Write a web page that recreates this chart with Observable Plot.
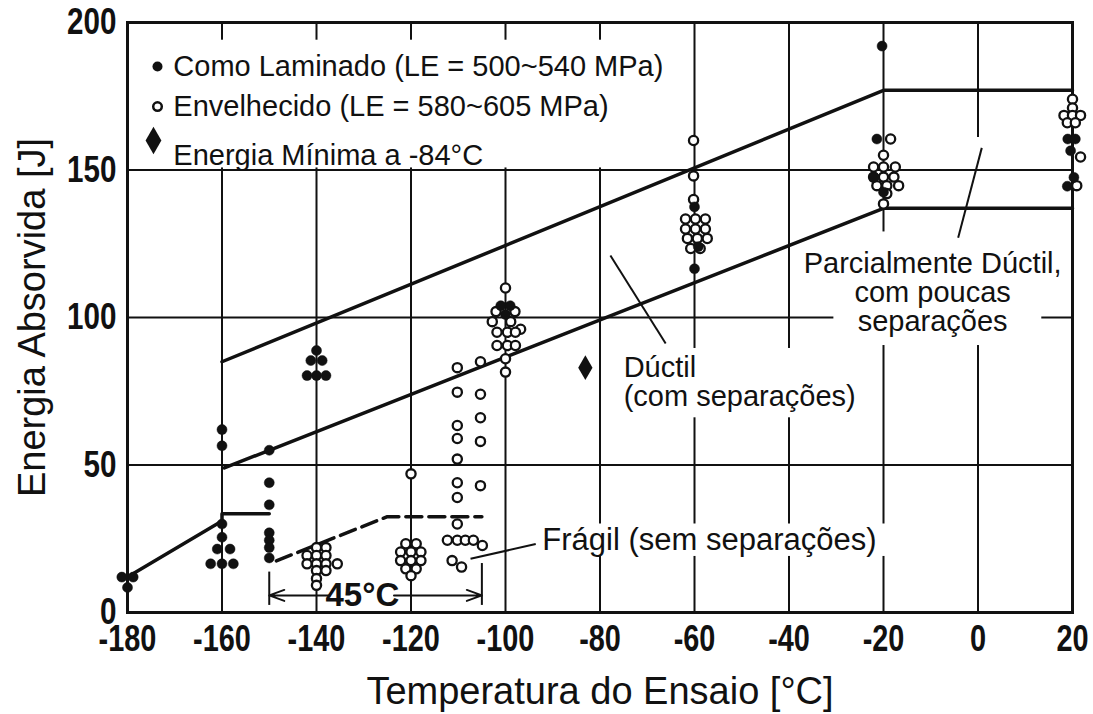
<!DOCTYPE html>
<html>
<head>
<meta charset="utf-8">
<script src="https://cdn.jsdelivr.net/npm/d3@7"></script>
<script src="https://cdn.jsdelivr.net/npm/@observablehq/plot@0.6"></script>
<style>
  html, body { margin: 0; padding: 0; background: #fff; }
  #chart svg { display: block; }
</style>
</head>
<body>
<div id="chart"></div>
<script>
// ---- data ----
const xTicks = [-180, -160, -140, -120, -100, -80, -60, -40, -20, 0, 20];
const yTicks = [0, 50, 100, 150, 200];

const xLabel = "Temperatura do Ensaio [°C]";
const yLabel = "Energia Absorvida [J]";

const legendLabels = [
  "Como Laminado (LE = 500~540 MPa)",
  "Envelhecido (LE = 580~605 MPa)",
  "Energia Mínima a -84°C"
];

// As rolled (filled dots)
const lamX = [-181.2, -178.8, -180,
  -160, -160, -160, -160, -161, -158.3, -162.4, -160, -157.6,
  -150, -150, -150, -150, -150, -150, -150,
  -140, -141.2, -138.8, -142, -140, -138,
  -101, -99, -100,
  -60, -60, -59.2,
  -20.3, -21.4, -22, -20,
  19, 20.6, 19.6, 20.3, 18.9];
const lamY = [12, 12, 8.5,
  62, 56.5, 30, 25.5, 21.5, 21.5, 16.5, 16.5, 16.5,
  55, 44, 36.5, 27, 24.5, 22, 18.5,
  88.8, 85.4, 85.4, 80.3, 80.3, 80.3,
  104, 104, 101,
  116.5, 137.5, 124,
  192, 160.5, 147.5, 142.5,
  160.5, 160.5, 156.5, 147.5, 144.5];

// Aged (open dots)
const envX = [
  -140, -138, -142, -140, -138, -142, -140, -138, -135.6, -140, -138, -140, -140,
  -120, -121.1, -118.9, -122.2, -120, -117.9, -122.2, -120, -117.9, -121.1, -118.9, -120,
  -110.2, -110.2, -110.2, -110.2, -110.2, -110.2, -110.2, -110.2, -112.3, -110.2, -108.5, -106.8, -104.9, -111.3, -109.3,
  -105.3, -105.3, -105.3, -105.3, -105.3,
  -100, -102, -98, -102.8, -98.9, -96.8, -101.8, -99.6, -97.9, -101.8, -99.6, -97.9, -100, -100,
  -60.2, -60.2, -60.2, -61.9, -59.8, -57.7, -61.9, -59.8, -57.7, -61.5, -59.4, -57.3, -60.8, -58.8,
  -18.5, -20, -22.1, -20, -17.5, -22.1, -20, -17.8, -21.4, -19.3, -16.8, -19.3, -20,
  20, 20, 18.2, 20, 21.7, 18.9, 20.6, 21.7, 20.9];
const envY = [
  22, 22, 19.3, 19.3, 19.3, 16.5, 16.5, 16.5, 16.5, 14.2, 14.2, 11.5, 9.2,
  47, 23.3, 23.3, 20.5, 20.5, 20.5, 17.6, 17.6, 17.6, 14.8, 14.8, 12.5,
  83, 74.7, 63.4, 59, 52, 44, 39, 30, 24.5, 24.5, 24.5, 24.5, 22.7, 17.6, 15.4,
  85, 74, 66, 58, 43,
  110, 102, 102, 98.6, 98.6, 96, 95, 95, 95, 90.5, 90.5, 90.5, 86, 81.5,
  160, 148, 140, 133.4, 133.4, 133.4, 130, 130, 130, 126.8, 126.8, 126.8, 123.4, 123.4,
  160.5, 155, 151, 151, 151, 147.6, 147.6, 147.6, 144.7, 144.7, 144.7, 142, 138.5,
  174, 171, 168.5, 168.5, 168.5, 166, 166, 154.4, 144.7];

// Minimum energy at -84 °C
const minX = [-83.1];
const minY = [83];

// Transition band lines
const upperX = [-160, -20, 20];
const upperY = [85, 177, 177];
const middleX = [-159.5, -20, 20];
const middleY = [49, 137, 137];
const lowerX = [-180, -160, -160, -150];
const lowerY = [12, 31, 33.5, 33.5];
const lowerAgedX = [-148.5, -125, -105];
const lowerAgedY = [17.5, 32.5, 32.5];

// ---- build ----
const lam = lamX.map((x, i) => ({x, y: lamY[i]}));
const env = envX.map((x, i) => ({x, y: envY[i]}));
const mins = minX.map((x, i) => ({x, y: minY[i]}));
const toPts = (xs, ys) => xs.map((x, i) => ({x, y: ys[i]}));

const sans = "'Liberation Sans', Arial, Helvetica, sans-serif";

// annotation layout (data units)
const whiteBoxes = [
  {x1: -180, x2: -62, y1: 150.7, y2: 194},
  {x1: -30.5, x2: 13.5, y1: 90.5, y2: 129},
  {x1: -77, x2: -22.5, y1: 66, y2: 89.5},
  {x1: -92.5, x2: -17, y1: 19, y2: 30}
];
const leaders = [
  {x1: 0.8, y1: 157.5, x2: -4.2, y2: 127},
  {x1: -77.8, y1: 121, x2: -66.1, y2: 91.2},
  {x1: -107.4, y1: 18.2, x2: -93.6, y2: 23.2}
];

const chart = Plot.plot({
  width: 1093,
  height: 714,
  marginLeft: 127,
  marginRight: 21,
  marginTop: 22,
  marginBottom: 102,
  x: {domain: [-180, 20], ticks: xTicks},
  y: {domain: [0, 200], ticks: yTicks},
  style: {fontFamily: sans, background: "#fff", overflow: "visible", color: "#111"},
  marks: [
    // grid
    Plot.ruleX(xTicks.filter(d => d > -180 && d < 20 && d !== 0), {stroke: "#111", strokeWidth: 2}),
    Plot.ruleX([[0, 91.5], [161, 200]], {x: () => 0, y1: d => d[0], y2: d => d[1], stroke: "#111", strokeWidth: 2}),
    Plot.ruleY(yTicks.filter(d => d > 0 && d < 200), {stroke: "#111", strokeWidth: 2}),
    // white label backgrounds
    Plot.rect(whiteBoxes, {x1: "x1", x2: "x2", y1: "y1", y2: "y2", fill: "#fff"}),
    Plot.frame({stroke: "#111", strokeWidth: 3}),
    // axes
    Plot.axisX({ticks: xTicks, tickSize: 0, tickPadding: 12, fontSize: 37, fontWeight: "bold",
      tickFormat: d => String(d), label: null}),
    Plot.axisY({ticks: yTicks, tickSize: 0, tickPadding: 11, fontSize: 37, fontWeight: "bold",
      tickFormat: d => String(d), label: null}),
    // band lines
    Plot.line(toPts(upperX, upperY), {x: "x", y: "y", stroke: "#111", strokeWidth: 3.5}),
    Plot.line(toPts(middleX, middleY), {x: "x", y: "y", stroke: "#111", strokeWidth: 3.5}),
    Plot.line(toPts(lowerX, lowerY), {x: "x", y: "y", stroke: "#111", strokeWidth: 3.5}),
    Plot.line(toPts(lowerAgedX, lowerAgedY), {x: "x", y: "y", stroke: "#111", strokeWidth: 3.5, strokeDasharray: "16,7"}),
    // leaders
    Plot.link(leaders, {x1: "x1", y1: "y1", x2: "x2", y2: "y2", stroke: "#111", strokeWidth: 2}),
    // 45 °C dimension
    Plot.ruleX([[-150, 2.4, 13.7], [-105, 2.4, 16.6]], {x: d => d[0], y1: d => d[1], y2: d => d[2], stroke: "#111", strokeWidth: 2}),
    Plot.arrow([[-137.2, -150], [-123.6, -105]], {x1: d => d[0], x2: d => d[1], y1: () => 5.8, y2: () => 5.8,
      stroke: "#111", strokeWidth: 2, headLength: 12, headAngle: 40}),
    Plot.text(["45°C"], {x: () => -130.3, y: () => 5.8, fontWeight: "bold", fontSize: 33, fill: "#111",
      ariaLabel: "dimension label"}),
    // data points
    Plot.dot(env, {x: "x", y: "y", r: 4.6, fill: "#fff", stroke: "#111", strokeWidth: 2.3}),
    Plot.dot(lam, {x: "x", y: "y", r: 5, fill: "#111", stroke: "#111", strokeWidth: 0.5}),
    Plot.dot(mins, {x: "x", y: "y", symbol: "diamond", r: 7.5, fill: "#111"}),
    // legend
    Plot.dot([[-173.65, 185.1]], {x: d => d[0], y: d => d[1], r: 5, fill: "#111"}),
    Plot.dot([[-173.65, 171.5]], {x: d => d[0], y: d => d[1], r: 4.3, fill: "#fff", stroke: "#111", strokeWidth: 2.5}),
    Plot.dot([[-174.5, 160]], {x: d => d[0], y: d => d[1], symbol: "diamond", r: 8.3, fill: "#111"}),
    Plot.text(legendLabels, {x: () => -170.3, y: (d, i) => [185.1, 171.5, 155][i], textAnchor: "start",
      fontSize: 29, fill: "#111"}),
    // region labels
    Plot.text(["Parcialmente Dúctil,\ncom poucas\nseparações"], {x: () => -9.6, y: () => 108.5, textAnchor: "middle",
      fontSize: 29, lineHeight: 1.0, fill: "#111"}),
    Plot.text(["Dúctil\n(com separações)"], {x: () => -75, y: () => 78, textAnchor: "start",
      fontSize: 29, lineHeight: 1.0, fill: "#111"}),
    Plot.text(["Frágil (sem separações)"], {x: () => -92.2, y: () => 24.4, textAnchor: "start",
      fontSize: 31, fill: "#111"}),
    // axis titles
    Plot.text([xLabel], {frameAnchor: "bottom", dy: 91, textAnchor: "middle", fontSize: 38, fill: "#111"}),
    Plot.text([yLabel], {frameAnchor: "left", dx: -95, rotate: -90, textAnchor: "middle", fontSize: 38, fill: "#111"})
  ]
});

document.getElementById("chart").appendChild(chart);

// condense the stencil-like tick labels (narrow DIN look)
function condense(selector, factor) {
  chart.querySelectorAll(selector).forEach(el => {
    const w = el.getComputedTextLength();
    el.setAttribute("textLength", (w * factor).toFixed(1));
    el.setAttribute("lengthAdjust", "spacingAndGlyphs");
  });
}
condense('g[aria-label="x-axis tick label"] text', 0.78);
condense('g[aria-label="y-axis tick label"] text', 0.8);
condense('g[aria-label="dimension label"] text', 0.78);
</script>
</body>
</html>
